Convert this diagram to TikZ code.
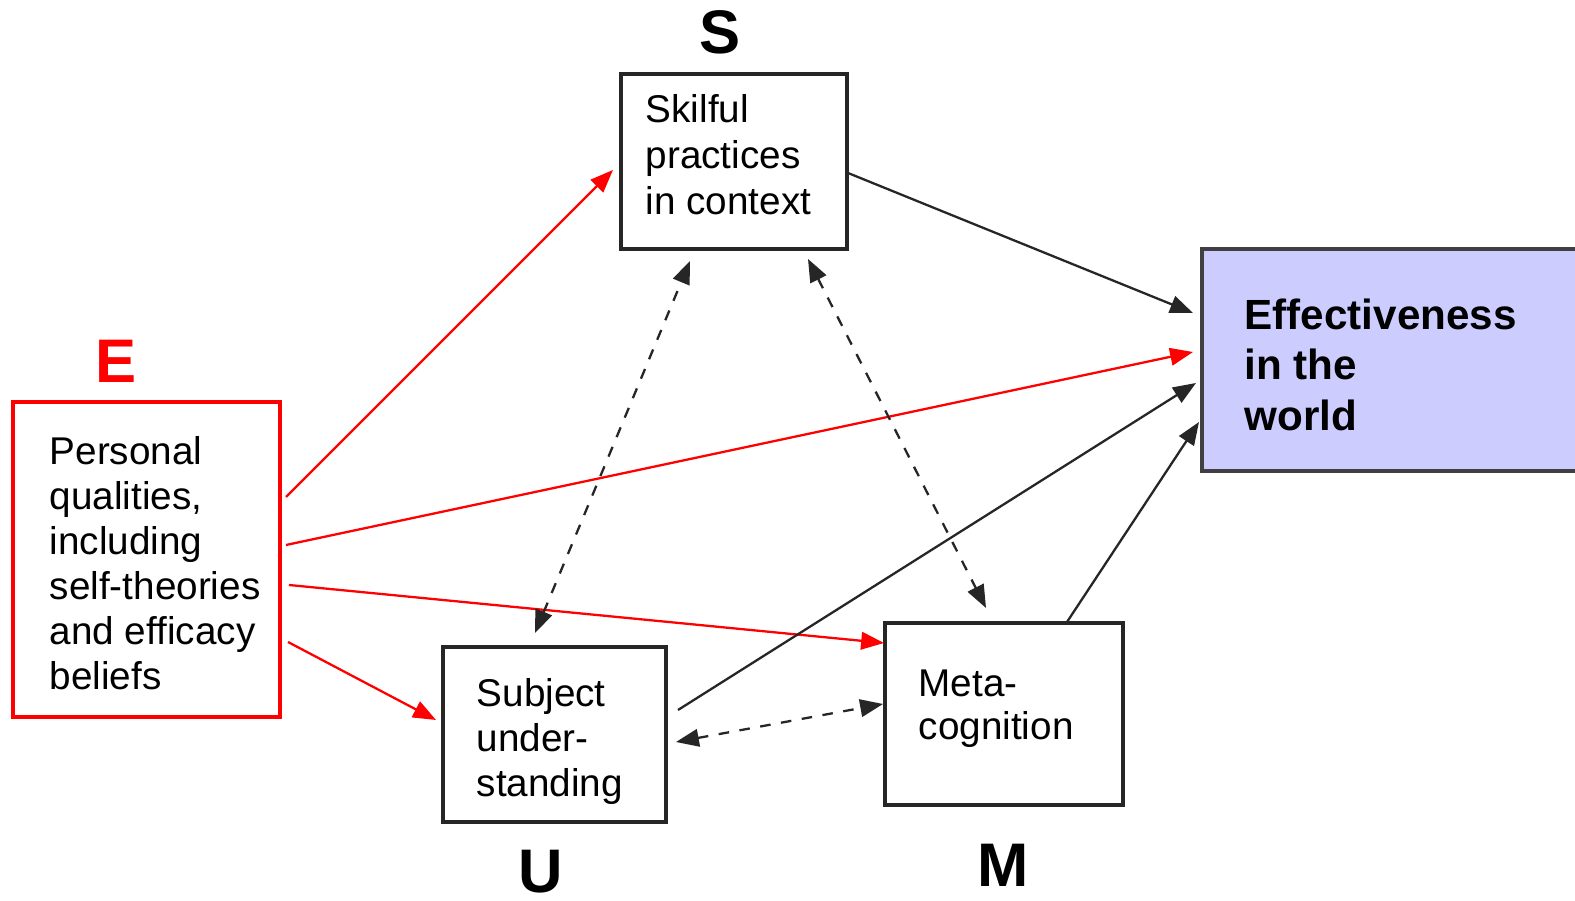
\documentclass[tikz,border=0pt]{standalone}
\usepackage{fontspec}
\setmainfont{Liberation Sans}
\usetikzlibrary{arrows.meta}
\definecolor{lav}{HTML}{CCCCFF}
\begin{document}
\begin{tikzpicture}[x=0.01cm,y=-0.01cm,
 box/.style={draw=black!85,line width=1.1pt,fill=white,inner sep=0},
 txt/.style={anchor=base west,align=left,font=\fontsize{11}{13.1}\selectfont,inner sep=0},
 big/.style={font=\fontsize{17.5}{20}\selectfont\bfseries,inner sep=0},
 tip/.style={-{Triangle[length=6.5pt,width=5pt]}},
 both/.style={{Triangle[length=6.5pt,width=5pt]}-{Triangle[length=6.5pt,width=5pt]}},
 redarr/.style={tip,red,line width=0.65pt},
 blkarr/.style={tip,black!85,line width=0.65pt},
 dasharr/.style={both,black!85,line width=0.65pt,dash pattern=on 3pt off 3pt}]
\clip (0,0) rectangle (1575,901);
\fill[white] (0,0) rectangle (1575,901);

% boxes
\node[box,minimum width=2.26cm,minimum height=1.75cm] (S) at (734,161.5) {};
\node[box,fill=lav,draw=black!75,minimum width=3.98cm,minimum height=2.22cm] (Eff) at (1401,360) {};
\node[box,draw=red,minimum width=2.67cm,minimum height=3.15cm] (E) at (146.5,559.5) {};
\node[box,minimum width=2.23cm,minimum height=1.75cm] (U) at (554.5,734.5) {};
\node[box,minimum width=2.38cm,minimum height=1.82cm] (M) at (1004,714) {};

% box texts (anchored at the baseline of their last line)
\node[txt] (St) at (645,215) {Skilful\\practices\\in context};
\node[txt,font=\fontsize{12}{14.5}\selectfont\bfseries] (Efft) at (1244,431) {Effectiveness\\in the\\world};
\node[txt,font=\fontsize{11}{12.8}\selectfont] (Et) at (49,690) {Personal\\qualities,\\including\\self-theories\\and efficacy\\beliefs};
\node[txt,font=\fontsize{11}{12.8}\selectfont] (Ut) at (476,797) {Subject\\under-\\standing};
\node[txt,font=\fontsize{11}{12.3}\selectfont] (Mt) at (918,740) {Meta-\\cognition};

% big letters
\node[big] (Sl) at (720,32) {S};
\node[big,text=red] (El) at (116,361) {E};
\node[big] (Ul) at (541,872) {U};
\node[big] (Ml) at (1003,865) {M};

% connector end points
\coordinate (e1) at (286,497);
\coordinate (e2) at (286,545);
\coordinate (e3) at (289,585);
\coordinate (e4) at (288,642);
\coordinate (s1) at (613,170);
\coordinate (s2) at (848,173);
\coordinate (s3) at (690,261);
\coordinate (s4) at (808,259);
\coordinate (f1) at (1193,313);
\coordinate (f2) at (1193,352);
\coordinate (f3) at (1196,383);
\coordinate (f4) at (1199,422);
\coordinate (u1) at (436,720);
\coordinate (u2) at (535,633);
\coordinate (u3) at (678,710);
\coordinate (u4) at (676,742);
\coordinate (m1) at (884,643);
\coordinate (m2) at (986,608);
\coordinate (m3) at (883,704);
\coordinate (m4) at (1067,622);

% red arrows from E
\draw[redarr] (e1) -- (s1);
\draw[redarr] (e2) -- (f2);
\draw[redarr] (e3) -- (m1);
\draw[redarr] (e4) -- (u1);

% black arrows to effectiveness
\draw[blkarr] (s2) -- (f1);
\draw[blkarr] (u3) -- (f3);
\draw[blkarr] (m4) -- (f4);

% dashed two-way arrows
\draw[dasharr] (u2) -- (s3);
\draw[dasharr] (s4) -- (m2);
\draw[dasharr] (u4) -- (m3);
\end{tikzpicture}
\end{document}
